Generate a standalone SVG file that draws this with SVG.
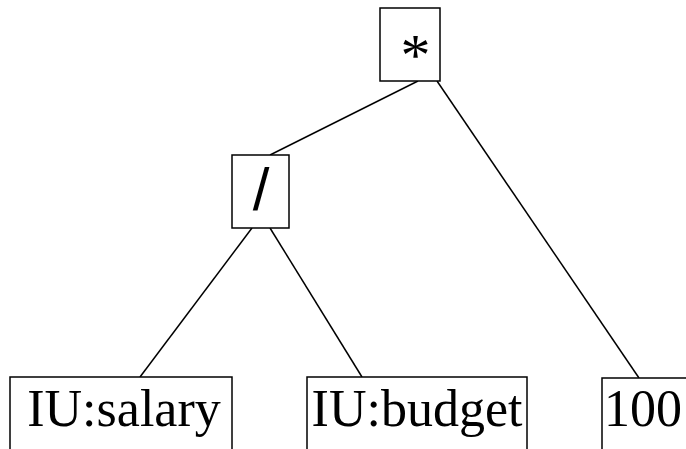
<svg xmlns="http://www.w3.org/2000/svg" width="686" height="449" viewBox="0 0 686 449">
<style>
.box{fill:#fff;stroke:#000;stroke-width:1.5}
.t{font-family:"Liberation Serif","Times New Roman",serif;font-size:52px;fill:#000;text-anchor:middle}
.op{font-size:60px}
.sans{font-family:"Liberation Sans",Arial,sans-serif}
.e{stroke:#000;stroke-width:1.5;fill:none}
</style>
<rect width="686" height="449" fill="#fff"/>
<g id="edges">
<line class="e" x1="418" y1="81" x2="270" y2="155"/>
<line class="e" x1="437" y1="81" x2="639" y2="378"/>
<line class="e" x1="252" y1="228" x2="140" y2="377"/>
<line class="e" x1="270" y1="228" x2="362" y2="377"/>
</g>
<g id="n_mul"><rect class="box" x="380" y="8" width="60" height="73"/><text class="t op" x="415.5" y="75">*</text></g>
<g id="n_div"><rect class="box" x="232" y="155" width="57" height="73"/><text class="t op sans" x="261" y="210">/</text></g>
<g id="n_salary"><rect class="box" x="10" y="377" width="222" height="90"/><text class="t" x="124" y="426">IU:salary</text></g>
<g id="n_budget"><rect class="box" x="307" y="377" width="220" height="90"/><text class="t" x="417" y="426">IU:budget</text></g>
<g id="n_100"><rect class="box" x="602" y="378" width="100" height="90"/><text class="t" x="643" y="426">100</text></g>
</svg>
